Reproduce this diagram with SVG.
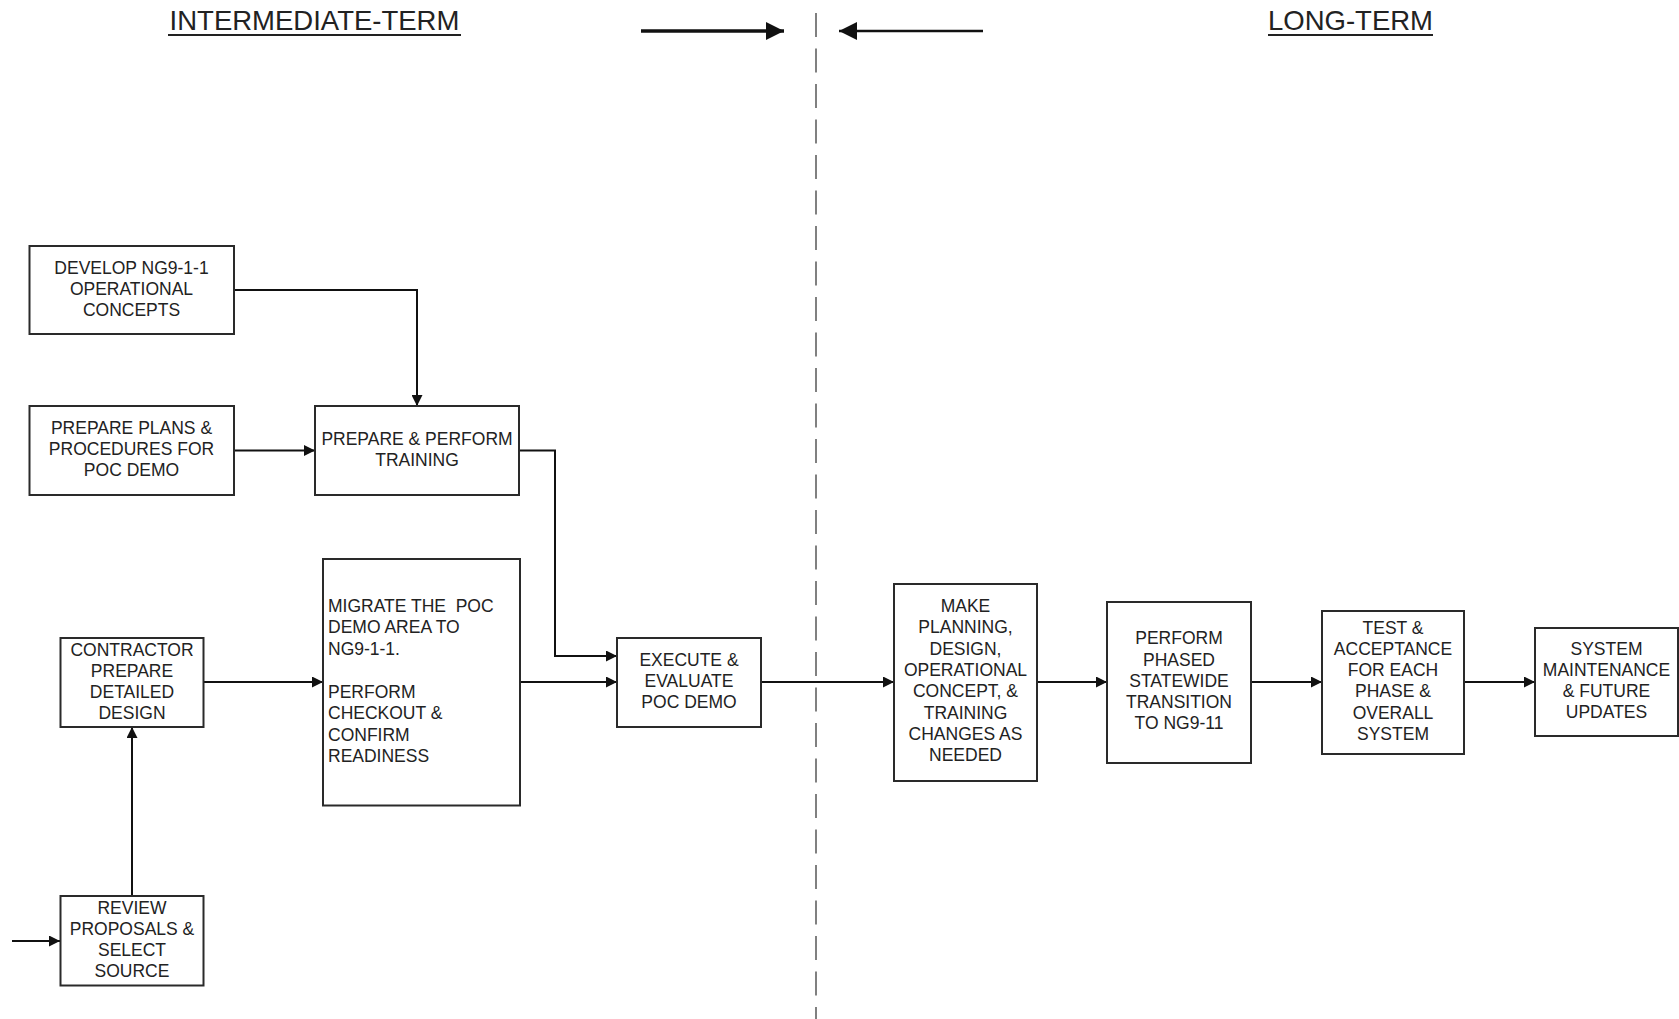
<svg xmlns="http://www.w3.org/2000/svg" width="1679" height="1019" viewBox="0 0 1679 1019">
  <style>
    .box { fill: #ffffff; stroke: #2a2a2a; stroke-width: 2; }
    .lbl { font-family: "Liberation Sans", Arial, sans-serif; font-size: 17.5px; fill: #222222; text-anchor: middle; white-space: pre; }
    .lbl-left { text-anchor: start; }
    .title { font-family: "Liberation Sans", Arial, sans-serif; font-size: 27.5px; fill: #222222; text-anchor: middle; }
    .uline { stroke: #222222; stroke-width: 2; }
    .conn { fill: none; stroke: #111111; stroke-width: 2; marker-end: url(#arrow); }
    .divider { stroke: #808080; stroke-width: 2; stroke-dasharray: 24 11.5; }
  </style>
  <defs>
    <marker id="arrow" markerUnits="userSpaceOnUse" markerWidth="11" markerHeight="11" refX="11" refY="5.5" orient="auto">
      <path d="M0,0 L11,5.5 L0,11 z" fill="#111111"/>
    </marker>
    <marker id="bigArrow" markerUnits="userSpaceOnUse" markerWidth="18" markerHeight="18" refX="18" refY="9" orient="auto">
      <path d="M0,0 L18,9 L0,18 z" fill="#111111"/>
    </marker>
  </defs>

  <rect width="1679" height="1019" fill="#ffffff"/>

  <!-- phase headings -->
  <g id="headings">
    <text class="title" x="314.5" y="30">INTERMEDIATE-TERM</text>
    <line class="uline" x1="168" y1="35" x2="461" y2="35"/>
    <text class="title" x="1350.5" y="30">LONG-TERM</text>
    <line class="uline" x1="1268" y1="35" x2="1433" y2="35"/>
  </g>

  <!-- phase boundary -->
  <g id="boundary">
    <line class="divider" x1="816" y1="13" x2="816" y2="1019"/>
    <line x1="641" y1="31" x2="784" y2="31" stroke="#111111" stroke-width="3.5" marker-end="url(#bigArrow)"/>
    <line x1="983" y1="31" x2="839" y2="31" stroke="#111111" stroke-width="2.5" marker-end="url(#bigArrow)"/>
  </g>

  <!-- connectors -->
  <g id="connectors">
    <polyline class="conn" points="234,290 417,290 417,406"/>
    <line class="conn" x1="234" y1="450.5" x2="315" y2="450.5"/>
    <polyline class="conn" points="519,450.5 555,450.5 555,656 617,656"/>
    <line class="conn" x1="203" y1="682" x2="323" y2="682"/>
    <line class="conn" x1="520" y1="682" x2="617" y2="682"/>
    <line class="conn" x1="761" y1="682" x2="894" y2="682"/>
    <line class="conn" x1="1037" y1="682" x2="1107" y2="682"/>
    <line class="conn" x1="1251" y1="682" x2="1322" y2="682"/>
    <line class="conn" x1="1464" y1="682" x2="1535" y2="682"/>
    <line class="conn" x1="132" y1="896" x2="132" y2="727"/>
    <line class="conn" x1="12" y1="941" x2="60" y2="941"/>
  </g>

  <!-- nodes -->
  <g id="develop-concepts">
    <rect class="box" x="29.5" y="246" width="204.5" height="88"/>
    <text class="lbl" x="131.5" y="273.5">DEVELOP NG9-1-1</text>
    <text class="lbl" x="131.5" y="294.5">OPERATIONAL</text>
    <text class="lbl" x="131.5" y="315.5">CONCEPTS</text>
  </g>

  <g id="prepare-plans">
    <rect class="box" x="29.5" y="406" width="204.5" height="89"/>
    <text class="lbl" x="131.5" y="433.5">PREPARE PLANS &amp;</text>
    <text class="lbl" x="131.5" y="454.5">PROCEDURES FOR</text>
    <text class="lbl" x="131.5" y="475.5">POC DEMO</text>
  </g>

  <g id="training">
    <rect class="box" x="315" y="406" width="204" height="89"/>
    <text class="lbl" x="417" y="444.5">PREPARE &amp; PERFORM</text>
    <text class="lbl" x="417" y="465.5">TRAINING</text>
  </g>

  <g id="detailed-design">
    <rect class="box" x="60.5" y="638" width="143" height="89"/>
    <text class="lbl" x="132" y="655.5">CONTRACTOR</text>
    <text class="lbl" x="132" y="676.8">PREPARE</text>
    <text class="lbl" x="132" y="698.1">DETAILED</text>
    <text class="lbl" x="132" y="719.4">DESIGN</text>
  </g>

  <g id="review-proposals">
    <rect class="box" x="60.5" y="896" width="143" height="89.5"/>
    <text class="lbl" x="132" y="913.5">REVIEW</text>
    <text class="lbl" x="132" y="934.8">PROPOSALS &amp;</text>
    <text class="lbl" x="132" y="956.1">SELECT</text>
    <text class="lbl" x="132" y="977.4">SOURCE</text>
  </g>

  <g id="migrate-demo">
    <rect class="box" x="323" y="559" width="197" height="246.5"/>
    <text class="lbl lbl-left" x="328" y="611.5" xml:space="preserve">MIGRATE THE  POC</text>
    <text class="lbl lbl-left" x="328" y="633">DEMO AREA TO</text>
    <text class="lbl lbl-left" x="328" y="654.5">NG9-1-1.</text>
    <text class="lbl lbl-left" x="328" y="697.5">PERFORM</text>
    <text class="lbl lbl-left" x="328" y="719">CHECKOUT &amp;</text>
    <text class="lbl lbl-left" x="328" y="740.5">CONFIRM</text>
    <text class="lbl lbl-left" x="328" y="762">READINESS</text>
  </g>

  <g id="execute-demo">
    <rect class="box" x="617" y="638" width="144" height="89"/>
    <text class="lbl" x="689" y="665.5">EXECUTE &amp;</text>
    <text class="lbl" x="689" y="686.5">EVALUATE</text>
    <text class="lbl" x="689" y="707.5">POC DEMO</text>
  </g>

  <g id="make-changes">
    <rect class="box" x="894" y="584" width="143" height="197"/>
    <text class="lbl" x="965.5" y="612">MAKE</text>
    <text class="lbl" x="965.5" y="633.3">PLANNING,</text>
    <text class="lbl" x="965.5" y="654.6">DESIGN,</text>
    <text class="lbl" x="965.5" y="675.9">OPERATIONAL</text>
    <text class="lbl" x="965.5" y="697.2">CONCEPT, &amp;</text>
    <text class="lbl" x="965.5" y="718.5">TRAINING</text>
    <text class="lbl" x="965.5" y="739.8">CHANGES AS</text>
    <text class="lbl" x="965.5" y="761.1">NEEDED</text>
  </g>

  <g id="statewide-transition">
    <rect class="box" x="1107" y="602" width="144" height="161"/>
    <text class="lbl" x="1179" y="644.2">PERFORM</text>
    <text class="lbl" x="1179" y="665.5">PHASED</text>
    <text class="lbl" x="1179" y="686.8">STATEWIDE</text>
    <text class="lbl" x="1179" y="708.1">TRANSITION</text>
    <text class="lbl" x="1179" y="729.4">TO NG9-11</text>
  </g>

  <g id="test-acceptance">
    <rect class="box" x="1322" y="611" width="142" height="143"/>
    <text class="lbl" x="1393" y="633.5">TEST &amp;</text>
    <text class="lbl" x="1393" y="654.8">ACCEPTANCE</text>
    <text class="lbl" x="1393" y="676.1">FOR EACH</text>
    <text class="lbl" x="1393" y="697.4">PHASE &amp;</text>
    <text class="lbl" x="1393" y="718.7">OVERALL</text>
    <text class="lbl" x="1393" y="740">SYSTEM</text>
  </g>

  <g id="system-maintenance">
    <rect class="box" x="1535" y="628" width="143" height="108"/>
    <text class="lbl" x="1606.5" y="654.5">SYSTEM</text>
    <text class="lbl" x="1606.5" y="675.8">MAINTENANCE</text>
    <text class="lbl" x="1606.5" y="697.1">&amp; FUTURE</text>
    <text class="lbl" x="1606.5" y="718.4">UPDATES</text>
  </g>
</svg>
